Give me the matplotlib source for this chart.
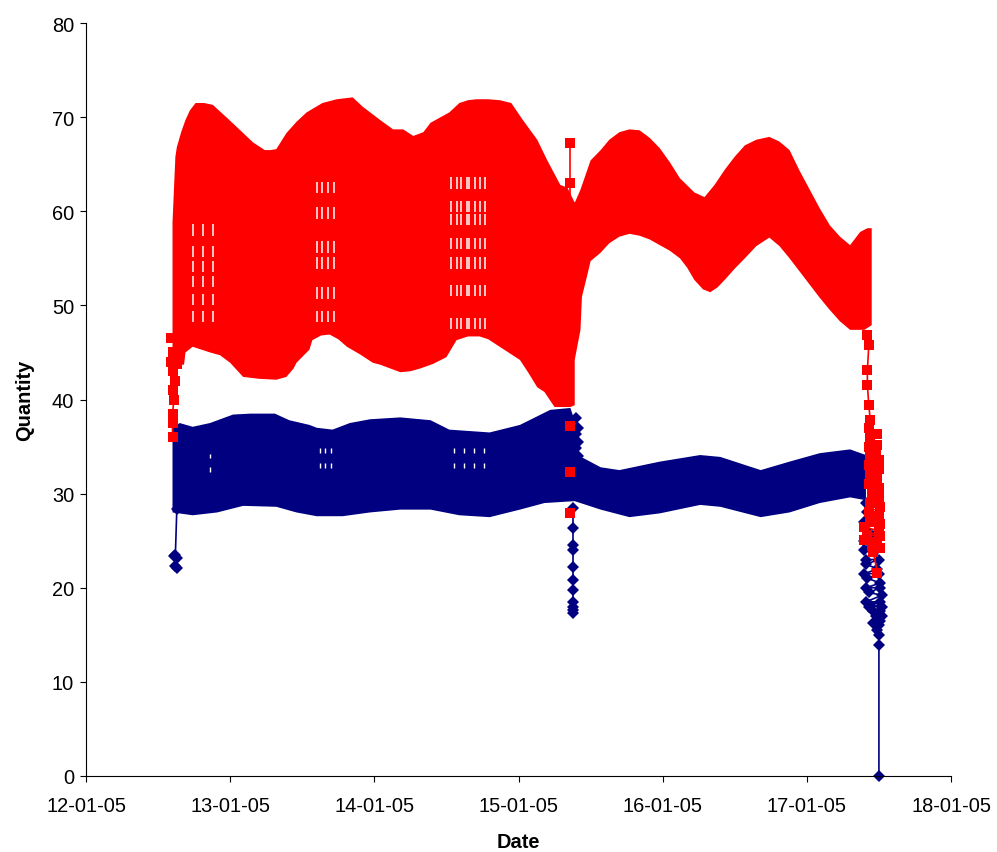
import matplotlib
matplotlib.use("Agg")
import matplotlib.pyplot as plt

plt.rcParams['font.family'] = ['Liberation Sans', 'DejaVu Sans']

# x values are days of January 2005
x_ticks = [12, 13, 14, 15, 16, 17, 18]
x_tick_labels = ['12-01-05', '13-01-05', '14-01-05', '15-01-05', '16-01-05', '17-01-05', '18-01-05']
y_ticks = [0, 10, 20, 30, 40, 50, 60, 70, 80]

# Red series: the swing between its upper and lower reach is too dense to separate
red_top_t = [12.60, 12.61, 12.62, 12.63, 12.66, 12.69, 12.72, 12.76, 12.82, 12.88, 12.98, 13.07, 13.16, 13.24, 13.28, 13.32, 13.39, 13.46, 13.53, 13.64, 13.74, 13.85, 13.92, 14.04, 14.13, 14.20, 14.27, 14.34, 14.39, 14.52, 14.59, 14.65, 14.71, 14.79, 14.87, 14.95, 15.03, 15.13, 15.20, 15.29, 15.34, 15.39, 15.43, 15.50, 15.57, 15.63, 15.70, 15.77, 15.84, 15.91, 15.98, 16.05, 16.12, 16.22, 16.29, 16.36, 16.43, 16.50, 16.57, 16.65, 16.74, 16.81, 16.88, 16.95, 17.02, 17.09, 17.16, 17.23, 17.30, 17.37, 17.42, 17.45]
red_top_v = [58.8, 62.3, 65.8, 66.8, 68.4, 69.7, 70.7, 71.5, 71.5, 71.3, 69.9, 68.6, 67.3, 66.5, 66.5, 66.6, 68.3, 69.5, 70.5, 71.5, 71.9, 72.1, 71.1, 69.7, 68.7, 68.7, 68.0, 68.4, 69.4, 70.5, 71.5, 71.8, 71.9, 71.9, 71.8, 71.5, 69.7, 67.6, 65.4, 62.8, 62.5, 60.9, 62.3, 65.4, 66.5, 67.6, 68.4, 68.7, 68.6, 67.8, 66.7, 65.2, 63.5, 62.0, 61.5, 62.8, 64.4, 65.8, 67.0, 67.6, 67.9, 67.4, 66.5, 64.3, 62.3, 60.3, 58.5, 57.3, 56.4, 57.8, 58.2, 58.2]
red_low_t = [12.60, 12.68, 12.69, 12.74, 12.86, 12.93, 13.00, 13.09, 13.20, 13.32, 13.39, 13.44, 13.46, 13.55, 13.57, 13.63, 13.69, 13.75, 13.81, 13.90, 13.99, 14.04, 14.18, 14.25, 14.32, 14.41, 14.50, 14.57, 14.65, 14.73, 14.79, 14.85, 14.93, 15.01, 15.07, 15.13, 15.18, 15.25, 15.36, 15.39, 15.39, 15.43, 15.44, 15.48, 15.50, 15.57, 15.63, 15.70, 15.77, 15.84, 15.91, 15.98, 16.05, 16.12, 16.17, 16.22, 16.28, 16.33, 16.38, 16.43, 16.50, 16.57, 16.65, 16.74, 16.81, 16.88, 16.95, 17.02, 17.09, 17.16, 17.23, 17.30, 17.40, 17.45]
red_low_v = [43.7, 43.7, 45.0, 45.6, 45.0, 44.7, 43.9, 42.4, 42.2, 42.1, 42.4, 43.3, 43.9, 45.3, 46.3, 46.8, 46.9, 46.4, 45.6, 44.8, 43.9, 43.7, 42.9, 43.0, 43.3, 43.8, 44.5, 46.3, 46.7, 46.7, 46.4, 45.8, 45.0, 44.2, 42.8, 41.3, 40.8, 39.2, 39.2, 39.4, 44.2, 47.4, 50.9, 53.4, 54.7, 55.6, 56.6, 57.3, 57.6, 57.4, 57.0, 56.4, 55.8, 55.0, 54.0, 52.7, 51.7, 51.4, 51.9, 52.7, 53.9, 55.0, 56.3, 57.2, 56.3, 55.0, 53.6, 52.2, 50.8, 49.5, 48.3, 47.4, 47.4, 47.9]

# Red readings that stand clear of the band
red_start_t = [12.59, 12.65, 12.60, 12.64, 12.59, 12.63, 12.60, 12.62, 12.60, 12.61, 12.60, 12.60, 12.60]
red_start_v = [46.5, 46.0, 45.0, 44.8, 44.0, 43.8, 43.0, 42.0, 41.0, 40.0, 38.5, 37.5, 36.0]
red_peak_t = [15.36, 15.36, 15.36]
red_peak_v = [67.2, 63.0, 60.5]
red_mid_t = [15.36, 15.36, 15.36]
red_mid_v = [37.2, 32.3, 27.9]
red_end_t = [17.42, 17.43, 17.42, 17.42, 17.43, 17.44, 17.43, 17.49, 17.44, 17.49, 17.43, 17.48, 17.44, 17.50, 17.43, 17.50, 17.44, 17.49, 17.43, 17.50, 17.45, 17.50, 17.44, 17.51, 17.43, 17.50, 17.44, 17.51, 17.40, 17.50, 17.42, 17.51, 17.40, 17.49, 17.45, 17.51, 17.46, 17.49]
red_end_v = [46.9, 45.8, 43.1, 41.5, 39.4, 37.8, 37.0, 36.3, 36.0, 35.2, 35.0, 34.6, 34.0, 33.6, 33.0, 32.6, 32.0, 31.6, 31.0, 30.6, 30.0, 29.6, 29.0, 28.6, 28.0, 27.6, 27.0, 26.8, 26.5, 26.0, 25.6, 25.5, 25.1, 24.8, 24.4, 24.2, 23.8, 21.6]

# Navy series
navy_top_t = [12.60, 12.65, 12.74, 12.86, 13.02, 13.14, 13.31, 13.41, 13.55, 13.60, 13.71, 13.83, 13.97, 14.18, 14.39, 14.52, 14.80, 15.01, 15.22, 15.36, 15.41, 15.41, 15.57, 15.70, 15.98, 16.26, 16.40, 16.68, 16.88, 17.09, 17.30, 17.41]
navy_top_v = [37.0, 37.5, 37.1, 37.5, 38.4, 38.5, 38.5, 37.8, 37.3, 37.0, 36.8, 37.5, 37.9, 38.1, 37.8, 36.8, 36.5, 37.3, 38.9, 39.1, 36.8, 34.1, 32.8, 32.5, 33.4, 34.1, 33.9, 32.5, 33.4, 34.3, 34.7, 34.1]
navy_low_t = [12.60, 12.74, 12.91, 13.09, 13.32, 13.46, 13.60, 13.78, 13.97, 14.18, 14.39, 14.59, 14.80, 15.01, 15.18, 15.39, 15.57, 15.77, 15.98, 16.26, 16.40, 16.68, 16.88, 17.09, 17.30, 17.41]
navy_low_v = [28.0, 27.7, 28.0, 28.7, 28.6, 28.0, 27.6, 27.6, 28.0, 28.3, 28.3, 27.7, 27.5, 28.3, 29.0, 29.2, 28.3, 27.5, 27.9, 28.8, 28.6, 27.5, 28.0, 29.0, 29.6, 29.3]

navy_start_t = [12.63, 12.62, 12.61, 12.63, 12.62, 12.63]
navy_start_v = [28.4, 23.5, 23.4, 23.2, 22.3, 22.1]
navy_notch_t = [15.40, 15.41, 15.40, 15.41, 15.40, 15.41, 15.40, 15.41]
navy_notch_v = [38.0, 37.0, 36.3, 35.5, 34.8, 34.0, 33.2, 32.4]
navy_mid_t = [15.38, 15.38, 15.38, 15.38, 15.38, 15.38, 15.38, 15.38, 15.38, 15.38, 15.38]
navy_mid_v = [28.5, 26.4, 24.5, 24.0, 22.2, 20.8, 19.8, 18.5, 18.0, 17.6, 17.3]
navy_end_t = [17.41, 17.42, 17.40, 17.42, 17.40, 17.46, 17.40, 17.48, 17.41, 17.50, 17.41, 17.49, 17.40, 17.50, 17.42, 17.51, 17.41, 17.51, 17.43, 17.52, 17.41, 17.51, 17.44, 17.52, 17.43, 17.51, 17.46, 17.52, 17.48, 17.51, 17.46, 17.50, 17.49, 17.50, 17.50, 17.50]
navy_end_v = [29.0, 28.0, 27.0, 26.0, 25.0, 25.5, 24.0, 24.0, 23.0, 23.0, 22.5, 22.0, 21.5, 21.5, 21.0, 20.5, 20.0, 20.0, 19.5, 19.2, 18.5, 18.5, 18.2, 18.0, 18.0, 17.5, 17.5, 17.0, 17.0, 16.5, 16.3, 16.0, 15.5, 15.0, 13.9, 0.0]

# Places where the dense band leaves the background showing
red_gap_sets = [
    ([12.74, 12.81, 12.88], [58.0, 55.7, 54.1, 52.5, 50.6, 48.8]),
    ([13.60, 13.64, 13.68, 13.72], [62.5, 59.8, 56.2, 54.5, 51.3, 48.8]),
    ([14.53, 14.57, 14.60, 14.64, 14.66, 14.70, 14.73, 14.77], [63.0, 60.5, 59.1, 56.6, 54.5, 51.6, 48.1]),
]
navy_gap_sets = [
    ([12.86], [34.0, 32.6]),
    ([13.62, 13.66, 13.70], [34.6, 33.0]),
    ([14.55, 14.62, 14.69, 14.76], [34.6, 33.0]),
]

NAVY = '#000080'
RED = '#FF0000'

fig = plt.figure(figsize=(9.97, 8.53), dpi=100)
ax = fig.add_axes([86 / 997, 1 - 777 / 853, 865 / 997, 753 / 853])


def band(top_t, top_v, low_t, low_v, color, zorder):
    ax.fill(list(top_t) + list(low_t[::-1]), list(top_v) + list(low_v[::-1]),
            color=color, linewidth=0, zorder=zorder)


def gaps(sets, half, width, zorder):
    for cols, rows in sets:
        for r in rows:
            ax.vlines(cols, r - half, r + half, colors='white', linewidth=width, zorder=zorder)


def tail(t, v, color, marker, size, zorder):
    ax.plot(t, v, color=color, linewidth=1.2, marker=marker, markersize=size,
            markeredgewidth=0, zorder=zorder, clip_on=False)


band(navy_top_t, navy_top_v, navy_low_t, navy_low_v, NAVY, 2)
gaps(navy_gap_sets, 0.25, 1.0, 2.1)
for t, v in [(navy_start_t, navy_start_v), (navy_notch_t, navy_notch_v), (navy_mid_t, navy_mid_v), (navy_end_t, navy_end_v)]:
    tail(t, v, NAVY, 'D', 6.2, 2.2)

band(red_top_t, red_top_v, red_low_t, red_low_v, RED, 3)
gaps(red_gap_sets, 0.6, 1.1, 3.1)
for t, v in [(red_start_t, red_start_v), (red_peak_t, red_peak_v), (red_end_t, red_end_v)]:
    tail(t, v, RED, 's', 6.6, 3.2)
ax.plot(red_mid_t, red_mid_v, linestyle='none', marker='s', markersize=6.6,
        markeredgewidth=0, color=RED, zorder=3.2)

ax.set_xlim(12, 18)
ax.set_ylim(0, 80)
ax.set_xticks(x_ticks)
ax.set_xticklabels(x_tick_labels)
ax.set_yticks(y_ticks)
ax.spines['top'].set_visible(False)
ax.spines['right'].set_visible(False)
for s in ('left', 'bottom'):
    ax.spines[s].set_linewidth(0.8)
ax.tick_params(axis='both', direction='out', length=4.5, width=0.8, labelsize=14.4, colors='#000000')
ax.tick_params(axis='x', pad=10)
ax.tick_params(axis='y', pad=4)
ax.set_xlabel('Date', fontsize=14.4, fontweight='bold', va='center')
ax.set_ylabel('Quantity', fontsize=14.4, fontweight='bold', va='center')
ax.xaxis.set_label_coords(0.5, -66 / 753)
ax.yaxis.set_label_coords(-61 / 865, 0.5)

fig.savefig('out.png', dpi=100)
